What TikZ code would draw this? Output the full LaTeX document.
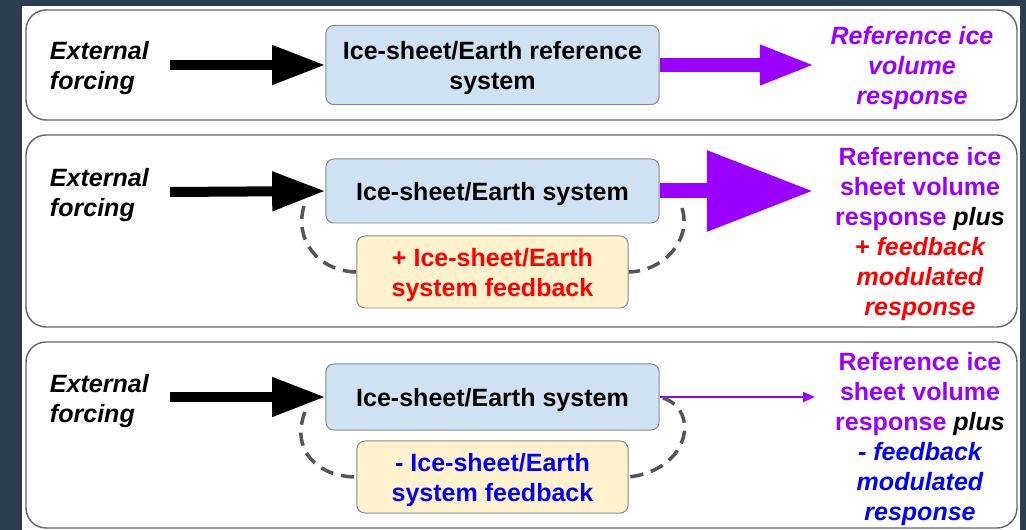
\documentclass[tikz,border=0pt]{standalone}
\usepackage{fontspec}
\setmainfont{Liberation Sans}
\usetikzlibrary{arrows.meta}
\definecolor{fondo}{HTML}{2C3E50}
\definecolor{morado}{HTML}{9900FF}
\definecolor{rojo}{HTML}{FF0000}
\definecolor{azul}{HTML}{0000FF}
\definecolor{gris}{HTML}{666666}
\definecolor{grisclaro}{HTML}{8A8A8A}
\definecolor{lazogris}{HTML}{555555}
\definecolor{cajaazul}{HTML}{CFE2F3}
\definecolor{cajacrema}{HTML}{FFF2CC}
\newcommand{\letra}{\fontsize{17.8}{21.3}\selectfont\bfseries}

\begin{document}
\begin{tikzpicture}[x=0.025cm, y=-0.025cm, line join=round,
  panel/.style={draw=gris, line width=1pt, rounded corners=0.5cm},
  sistema/.style={draw=grisclaro, line width=0.7pt, fill=cajaazul, rounded corners=0.2cm,
    minimum width=8.33cm, align=center, font=\letra, inner sep=0pt, text depth=0pt},
  retro/.style={sistema, fill=cajacrema, minimum width=6.78cm, minimum height=1.8cm},
  forzante/.style={align=left, anchor=west, font=\letra\itshape},
  respuesta/.style={align=center, font=\letra},
  fuerza/.style={line width=0.25cm, -{Triangle[length=1.33cm, width=0.93cm]}},
  lazo/.style={lazogris, line width=2.5pt, dash pattern=on 0.33cm off 0.2cm}]
  % Fondo
  \useasboundingbox (0,0) rectangle (1026,530);
  \fill[fondo] (0,0) rectangle (1026,530);
  \fill[white] (22,6) rectangle (1020,530);

  % Paneles
  \draw[panel] (26,10) rectangle (1017,120);
  \draw[panel] (26,135) rectangle (1017,327);
  \draw[panel] (26,342) rectangle (1017,528);

  % Panel 1: sistema de referencia
  \node[forzante] (ext1) at (45,68) {External\\forcing};
  \node[sistema, minimum height=1.98cm] (sis1) at (492.5,65) {Ice-sheet/Earth reference\\system};
  \node[respuesta, text=morado, font=\letra\itshape] (resp1) at (912,68)
    {Reference ice\\volume\\response};
  \coordinate (f1) at (170,65);
  \coordinate (p1) at (815,65);
  \draw[fuerza] (f1) -- (sis1.west);
  \draw[morado, line width=0.33cm, -{Triangle[length=1.38cm, width=0.92cm]}] (sis1.east) -- (p1);

  % Panel 2: retroalimentacion positiva
  \node[forzante] (ext2) at (45,195) {External\\forcing};
  \node[sistema, minimum height=1.6cm] (sis2) at (492.5,191) {Ice-sheet/Earth system};
  \node[retro, text=rojo] (fb2) at (492.5,272) {+ Ice-sheet/Earth\\system feedback};
  \node[respuesta] (resp2) at (920,234)
    {\color{morado}Reference ice\\\color{morado}sheet volume\\\color{morado}response \color{black}\itshape plus\\
     \color{rojo}\itshape + feedback\\\color{rojo}\itshape modulated\\\color{rojo}\itshape response};
  \coordinate (f2) at (170,192);
  \coordinate (p2) at (813,191);
  \draw[fuerza] (f2) -- (sis2.west);
  \draw[morado, line width=0.375cm, -{Triangle[length=2.65cm, width=1.93cm]}] (sis2.east) -- (p2);
  \coordinate (l2a) at (304,206);
  \coordinate (l2b) at (682,208);
  \draw[lazo] (l2a) .. controls (294,240) and (318,271) .. (fb2.west);
  \draw[lazo] (l2b) .. controls (692,240) and (664,271) .. (fb2.east);

  % Panel 3: retroalimentacion negativa
  \node[forzante] (ext3) at (45,401) {External\\forcing};
  \node[sistema, minimum height=1.65cm] (sis3) at (492.5,397) {Ice-sheet/Earth system};
  \node[retro, text=azul] (fb3) at (492.5,477) {- Ice-sheet/Earth\\system feedback};
  \node[respuesta] (resp3) at (920,439)
    {\color{morado}Reference ice\\\color{morado}sheet volume\\\color{morado}response \color{black}\itshape plus\\
     \color{azul}\itshape - feedback\\\color{azul}\itshape modulated\\\color{azul}\itshape response};
  \coordinate (f3) at (170,397);
  \coordinate (p3) at (815,397);
  \draw[fuerza] (f3) -- (sis3.west);
  \draw[morado, line width=0.05cm, -{Triangle[length=0.3cm, width=0.25cm]}] (sis3.east) -- (p3);
  \coordinate (l3a) at (305,412);
  \coordinate (l3b) at (663,398);
  \draw[lazo] (l3a) .. controls (290,450) and (318,477) .. (fb3.west);
  \draw[lazo] (l3b) .. controls (700,410) and (690,470) .. (fb3.east);
\end{tikzpicture}
\end{document}
